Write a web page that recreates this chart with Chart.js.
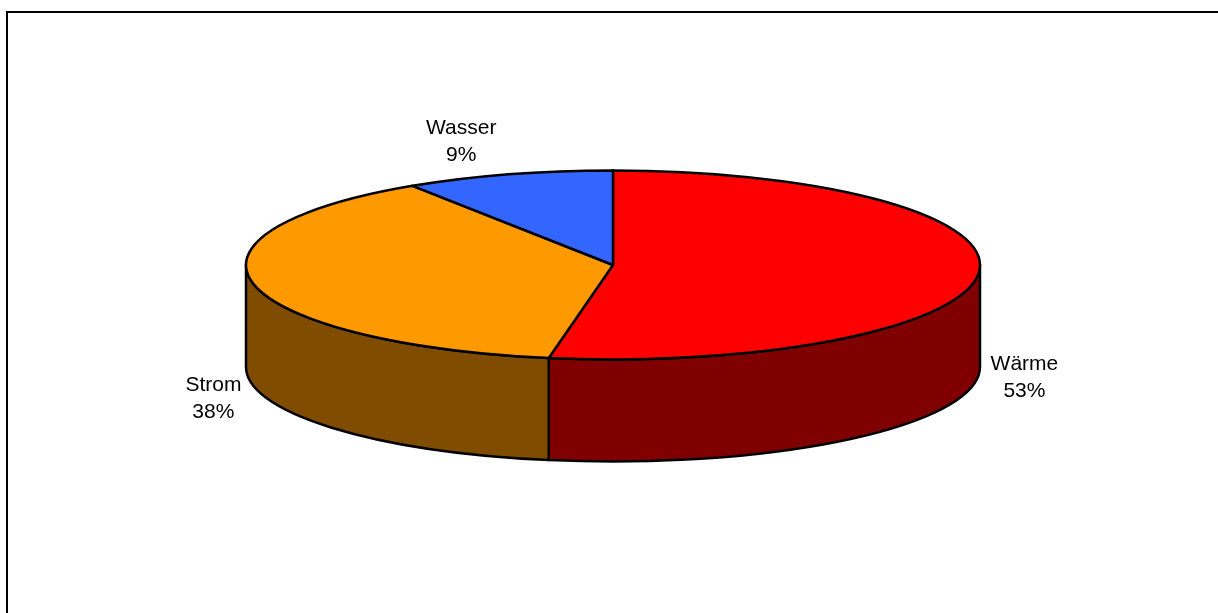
<!DOCTYPE html>
<html>
<head>
<meta charset="utf-8">
<script src="https://cdn.jsdelivr.net/npm/chart.js@4"></script>
<style>
  html, body { margin: 0; padding: 0; background: #fff; overflow: hidden; }
  #wrap { position: relative; width: 1218px; height: 613px; }
  #frame {
    position: absolute; left: 6px; top: 11px; width: 1300px; height: 700px;
    border-left: 2px solid #000; border-top: 2px solid #000;
  }
  canvas { position: absolute; left: 0; top: 0; }
</style>
</head>
<body>
<div id="wrap">
  <div id="frame"></div>
  <canvas id="grafica" width="1218" height="613"></canvas>
</div>
<script>
// Daten (Anteile geschätzt aus der Grafik)
const labels = ['Wärme', 'Strom', 'Wasser'];
const values = [52.8, 38.0, 9.2];

const topColors = ['#FF0000', '#FF9900', '#3366FF'];
const sideColors = ['#800000', '#804C00', '#1A3380'];

// zeichnet die Torte als 3D-Scheibe aus den Bögen von Chart.js
const pie3d = {
    id: 'pie3d',
    beforeDatasetsDraw(chart, args, opts) {
        const ctx = chart.ctx;
        const arcs = chart.getDatasetMeta(0).data;
        if (!arcs.length) return false;
        const cx = arcs[0].x;
        const cy = arcs[0].y;
        const R = arcs[0].outerRadius;
        const ry = R * opts.tilt;
        const depth = opts.depth;

        ctx.save();
        ctx.lineWidth = 2.5;
        ctx.strokeStyle = '#000';
        ctx.lineJoin = 'round';

        // Seitenwände (nur vordere Hälfte sichtbar)
        arcs.forEach((arc, i) => {
            const s = arc.startAngle, e = arc.endAngle;
            for (let k = -1; k <= 1; k++) {
                const lo = Math.max(s, 2 * Math.PI * k);
                const hi = Math.min(e, 2 * Math.PI * k + Math.PI);
                if (hi <= lo) continue;
                ctx.beginPath();
                ctx.ellipse(cx, cy, R, ry, 0, lo, hi);
                ctx.lineTo(cx + R * Math.cos(hi), cy + depth + ry * Math.sin(hi));
                ctx.ellipse(cx, cy + depth, R, ry, 0, hi, lo, true);
                ctx.closePath();
                ctx.fillStyle = sideColors[i];
                ctx.fill();
                ctx.stroke();
            }
        });

        // Oberseite
        arcs.forEach((arc, i) => {
            ctx.beginPath();
            ctx.moveTo(cx, cy);
            ctx.ellipse(cx, cy, R, ry, 0, arc.startAngle, arc.endAngle);
            ctx.closePath();
            ctx.fillStyle = topColors[i];
            ctx.fill();
            ctx.stroke();
        });

        // Beschriftungen
        const total = values.reduce((a, b) => a + b, 0);
        ctx.font = '21px "Liberation Sans", Arial, sans-serif';
        ctx.fillStyle = '#000';
        ctx.textAlign = 'center';
        ctx.textBaseline = 'middle';
        const lineH = 27, gap = 12;
        arcs.forEach((arc, i) => {
            const mid = (arc.startAngle + arc.endAngle) / 2;
            const c = Math.cos(mid), sn = Math.sin(mid);
            const px = cx + R * c;
            let py = cy + ry * sn;
            if (sn > 0) py += depth;
            const lines = [chart.data.labels[i], Math.round(values[i] / total * 100) + '%'];
            const w = Math.max(...lines.map(t => ctx.measureText(t).width));
            const left = c >= 0 ? px + gap : px - gap - w;
            let top;
            if (sn < -0.5) top = py - 6 - lines.length * lineH;
            else top = py - 5.5 + 91 * sn - lines.length * lineH / 2;
            lines.forEach((t, j) => {
                ctx.fillText(t, left + w / 2, top + lineH * (j + 0.5));
            });
        });

        ctx.restore();
        return false;
    }
};

const graph = document.querySelector('#grafica');
const financeChart = new Chart(graph, {
    type: 'pie',
    data: {
        labels: labels,
        datasets: [{
            data: values,
            backgroundColor: topColors,
            borderColor: '#000',
            borderWidth: 2
        }]
    },
    options: {
        responsive: false,
        animation: false,
        radius: 367,
        layout: { padding: { left: 246, right: 238, top: 0, bottom: 83 } },
        plugins: {
            legend: { display: false },
            tooltip: { enabled: false },
            pie3d: { tilt: 0.2575, depth: 102 }
        }
    },
    plugins: [pie3d]
});
</script>
</body>
</html>
